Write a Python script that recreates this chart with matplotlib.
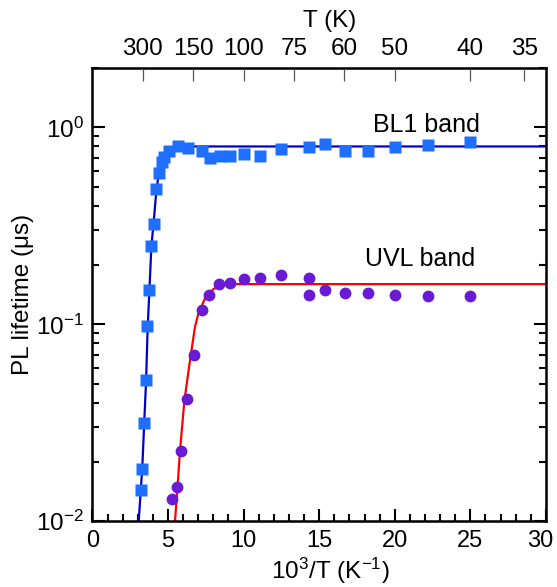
import matplotlib.pyplot as plt
from matplotlib.ticker import MultipleLocator, LogLocator, NullFormatter
from matplotlib.transforms import ScaledTranslation

plt.rcParams['font.family'] = ['Liberation Sans', 'DejaVu Sans']
plt.rcParams['mathtext.fontset'] = 'custom'
plt.rcParams['mathtext.rm'] = 'Liberation Sans'
plt.rcParams['mathtext.it'] = 'Liberation Sans'
plt.rcParams['mathtext.default'] = 'regular'

# BL1 band (squares)
bl1_x = [3.19, 3.28, 3.41, 3.54, 3.63, 3.76, 3.87, 4.07, 4.23, 4.40, 4.58, 4.73, 5.04,
         5.66, 6.32, 7.24, 7.77, 8.43, 9.10, 10.0, 11.1, 12.5, 14.3, 15.4, 16.7,
         18.2, 20.0, 22.2, 25.0]
bl1_y = [0.0144, 0.0185, 0.0315, 0.052, 0.098, 0.15, 0.251, 0.325, 0.485, 0.587, 0.666,
         0.706, 0.76, 0.80, 0.79, 0.76, 0.695, 0.717, 0.717, 0.734, 0.717, 0.778,
         0.796, 0.826, 0.76, 0.76, 0.796, 0.813, 0.845]

# UVL band (circles)
uvl_x = [5.24, 5.61, 5.88, 6.25, 6.71, 7.22, 7.73, 8.35, 9.09, 10.0, 11.1, 12.5,
         14.3, 14.3, 15.4, 16.7, 18.2, 20.0, 22.2, 25.0]
uvl_y = [0.0129, 0.0149, 0.0228, 0.0416, 0.0695, 0.118, 0.141, 0.161, 0.163, 0.17,
         0.172, 0.177, 0.172, 0.141, 0.149, 0.145, 0.144, 0.141, 0.14, 0.14]

# fit curves
bl1_fit_x = [3.06, 3.2, 3.3, 3.42, 3.55, 3.65, 3.77, 3.9, 4.05, 4.2, 4.4, 4.6, 4.9, 5.3, 6.0, 30]
bl1_fit_y = [0.01, 0.0145, 0.019, 0.031, 0.052, 0.095, 0.15, 0.25, 0.33, 0.45, 0.6, 0.7,
             0.77, 0.795, 0.80, 0.80]
uvl_fit_x = [5.46, 5.61, 5.79, 6.08, 6.45, 6.78, 7.0, 7.44, 8.0, 8.65, 9.5, 30]
uvl_fit_y = [0.01, 0.0142, 0.0227, 0.0408, 0.0653, 0.0966, 0.113, 0.135, 0.151, 0.159,
             0.16, 0.16]

x_ticks = [0, 5, 10, 15, 20, 25, 30]
top_T = [300, 150, 100, 75, 60, 50, 40, 35]

fig = plt.figure(figsize=(5.57, 5.87), dpi=100)
ax = fig.add_axes([0.166, 0.112, 0.814, 0.772])

ax.plot(bl1_fit_x, bl1_fit_y, color='#0000c8', lw=1.6, zorder=2)
ax.plot(uvl_fit_x, uvl_fit_y, color='#ff0000', lw=1.6, zorder=2)
ax.plot(bl1_x, bl1_y, 's', color='#1e6eff', ms=8, mec='none', zorder=3)
ax.plot(uvl_x, uvl_y, 'o', color='#6a1ad2', ms=8.5, mec='none', zorder=3)

ax.set_yscale('log')
ax.set_xlim(0, 30)
ax.set_ylim(0.01, 2)
ax.set_xticks(x_ticks)
ax.xaxis.set_minor_locator(MultipleLocator(1))
ax.yaxis.set_minor_locator(LogLocator(base=10, subs=range(2, 10)))
ax.yaxis.set_minor_formatter(NullFormatter())
ax.set_yticks([0.01, 0.1, 1])
ax.set_yticklabels(['$10^{-2}$', '$10^{-1}$', '$10^{0}$'])

ax.tick_params(which='both', direction='in', top=False, right=True, width=1.5,
               labelsize=17.5)
ax.tick_params(which='major', length=9)
ax.tick_params(which='minor', length=5)
ax.tick_params(axis='x', pad=6, labelsize=17)
ax.tick_params(axis='y', pad=6)
for s in ax.spines.values():
    s.set_linewidth(1.8)

ax.set_xlabel('10$^{3}$/T (K$^{-1}$)', fontsize=17.5, labelpad=3, x=0.525)
ax.set_ylabel('PL lifetime (μs)', fontsize=17.5, labelpad=2)

ax.text(22.1, 1.03, 'BL1 band', fontsize=18, ha='center', va='center')
ax.text(21.7, 0.214, 'UVL band', fontsize=18, ha='center', va='center')

ax2 = ax.twiny()
ax2.set_xlim(0, 30)
ax2.set_xticks([1000 / t for t in top_T])
ax2.set_xticklabels([str(t) for t in top_T])
ax2.tick_params(direction='in', length=9, width=0.9, color='#555555', labelsize=17.5, pad=6)
ax2.set_xlabel('T (K)', fontsize=17.5, labelpad=8, x=0.522)

# keep the last bottom label inside the canvas
fig.canvas.draw()
last = ax.get_xticklabels()[-1]
last.set_transform(last.get_transform() + ScaledTranslation(-4 / 72, 0, fig.dpi_scale_trans))

plt.savefig('out.png', dpi=100)
plt.close()
